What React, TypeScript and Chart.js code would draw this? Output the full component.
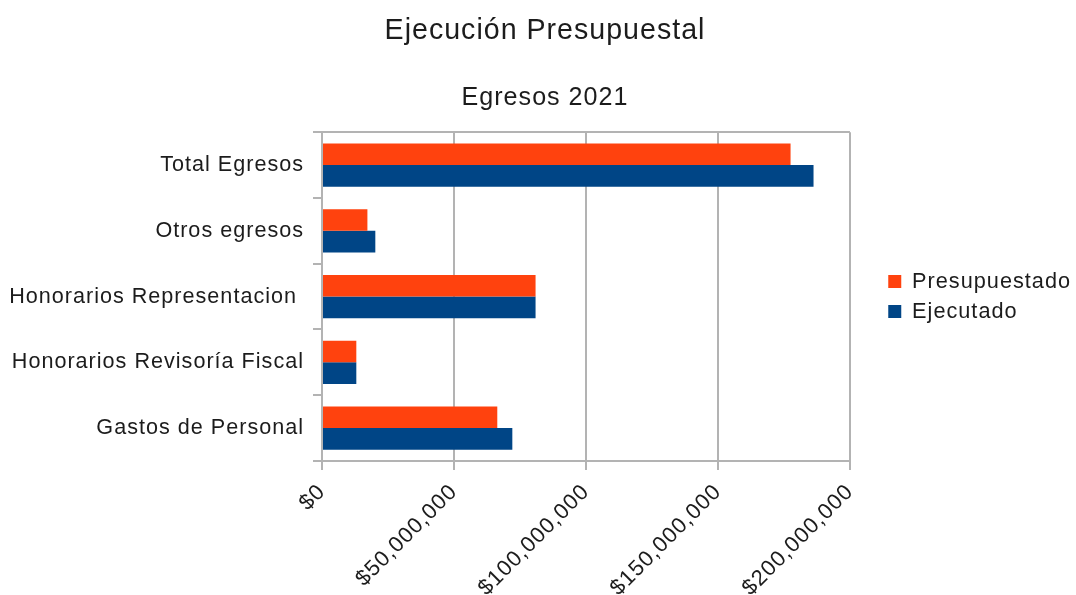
import React, { useEffect, useRef } from 'react';
import { Chart, registerables } from 'chart.js';

Chart.register(...registerables);

const TITLE = 'Ejecución Presupuestal';
const SUBTITLE = 'Egresos 2021';
const categories = [
  'Total Egresos',
  'Otros egresos',
  'Honorarios Representacion ',
  'Honorarios Revisoría Fiscal',
  'Gastos de Personal',
];
const seriesNames = ['Presupuestado', 'Ejecutado'];
const presupuestado = [177500000, 17200000, 80900000, 13000000, 66400000];
const ejecutado = [186200000, 20200000, 80900000, 13000000, 72100000];
const xTicks = [0, 50000000, 100000000, 150000000, 200000000];

const FONT = "'Liberation Sans', Arial, sans-serif";
const TEXT = '#1c1c1c';
const GRID = '#b3b3b3';

const spacingPlugin = {
  id: 'letterSpacing',
  beforeUpdate(chart: any) { (chart.ctx as any).letterSpacing = '1px'; },
  beforeLayout(chart: any) { (chart.ctx as any).letterSpacing = '1px'; },
  beforeDraw(chart: any) { (chart.ctx as any).letterSpacing = '1px'; },
};

export default function App() {
  const ref = useRef<HTMLCanvasElement | null>(null);
  useEffect(() => {
    if (!ref.current) return;
    const chart = new Chart(ref.current, {
      type: 'bar',
      data: {
        labels: categories,
        datasets: [
          {
            label: seriesNames[0],
            data: presupuestado,
            backgroundColor: '#FF420E',
            borderWidth: 0,
            categoryPercentage: 0.656,
            barPercentage: 1,
          },
          {
            label: seriesNames[1],
            data: ejecutado,
            backgroundColor: '#004586',
            borderWidth: 0,
            categoryPercentage: 0.656,
            barPercentage: 1,
          },
        ],
      },
      plugins: [spacingPlugin],
      options: {
        indexAxis: 'y',
        animation: false,
        responsive: false,
        devicePixelRatio: 1,
        layout: { padding: { left: 9, right: -5, top: 0, bottom: 0 } },
        plugins: {
          title: {
            display: true,
            text: TITLE,
            color: TEXT,
            font: { family: FONT, size: 28.6, weight: 'normal', lineHeight: 1.2 },
            padding: { top: 13.8, bottom: 0 },
          },
          subtitle: {
            display: true,
            text: SUBTITLE,
            color: TEXT,
            font: { family: FONT, size: 25.1, weight: 'normal', lineHeight: 1.2 },
            padding: { top: 34.5, bottom: 19.5 },
          },
          legend: {
            display: true,
            position: 'right',
            fullSize: false,
            maxWidth: 300,
            labels: {
              boxWidth: 13,
              boxHeight: 13,
              padding: 8.3,
              color: TEXT,
              font: { family: FONT, size: 21.7 },
            },
          },
          tooltip: { enabled: false },
        },
        scales: {
          x: {
            type: 'linear',
            position: 'bottom',
            min: xTicks[0],
            max: xTicks[xTicks.length - 1],
            afterFit: (s: any) => { s.height = 134; },
            afterBuildTicks: (s: any) => { s.ticks = xTicks.map((v) => ({ value: v })); },
            ticks: {
              stepSize: xTicks[1] - xTicks[0],
              minRotation: 45,
              maxRotation: 45,
              padding: 9,
              color: TEXT,
              font: { family: FONT, size: 22 },
              callback: (v: any) => '$' + Number(v).toLocaleString('en-US'),
            },
            grid: { color: GRID, lineWidth: 2, tickLength: 9, tickColor: GRID, drawOnChartArea: true },
            border: { display: true, color: GRID, width: 2 },
          },
          y: {
            type: 'category',
            position: 'left',
            afterFit: (s: any) => { s.width = 313; },
            ticks: {
              padding: 9,
              color: TEXT,
              font: { family: FONT, size: 21.6 },
            },
            grid: {
              offset: true,
              color: (c: any) => (c.index === 0 ? GRID : 'rgba(0,0,0,0)'),
              lineWidth: 2,
              tickLength: 9,
              tickColor: GRID,
            },
            border: { display: true, color: GRID, width: 2 },
          },
          yPad: {
            type: 'linear',
            axis: 'y',
            position: 'right',
            display: true,
            afterFit: (s: any) => { s.width = 30; },
            ticks: { display: false },
            grid: { display: false, drawTicks: false },
            border: { display: false },
          },
        },
      },
    } as any);
    return () => chart.destroy();
  }, []);
  return (
    <div style={{ position: 'fixed', left: 0, top: 0, width: 1076, height: 595, background: '#fff' }}>
      <canvas ref={ref} width={1076} height={595} style={{ display: 'block', width: 1076, height: 595 }} />
    </div>
  );
}
